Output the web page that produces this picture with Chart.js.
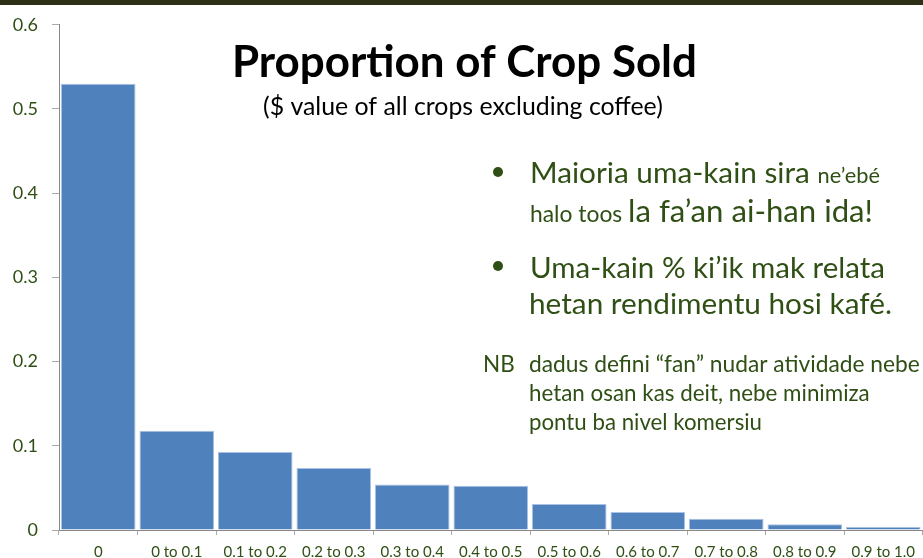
<!DOCTYPE html>
<html>
<head>
<meta charset="utf-8">
<script src="https://cdn.jsdelivr.net/npm/chart.js@4.4.1/dist/chart.umd.min.js"></script>
<style>
  html, body { margin: 0; padding: 0; background: #fff; }
  #wrap { width: 923px; height: 558px; position: relative; }
</style>
</head>
<body>
<div id="wrap"><canvas id="crop-chart" width="923" height="558"></canvas></div>
<script>
// Data
const categories = ["0", "0 to 0.1", "0.1 to 0.2", "0.2 to 0.3", "0.3 to 0.4", "0.4 to 0.5",
                    "0.5 to 0.6", "0.6 to 0.7", "0.7 to 0.8", "0.8 to 0.9", "0.9 to 1.0"];
const proportions = [0.530, 0.118, 0.0925, 0.0735, 0.054, 0.0525, 0.031, 0.0214, 0.0134, 0.0068, 0.0036];
const yTicks = [0, 0.1, 0.2, 0.3, 0.4, 0.5, 0.6];

const green = "#2f4f15";
const fontFam = "Lato, 'Open Sans', sans-serif";

// draws the slide text on top of the chart
const slideText = {
    id: "slideText",
    beforeDraw(chart) {
        const ctx = chart.ctx;
        ctx.save();
        ctx.fillStyle = "#fff";
        ctx.fillRect(0, 0, chart.width, chart.height);
        ctx.fillStyle = "#2d2f17";
        ctx.fillRect(0, 0, chart.width, 5);
        ctx.restore();
    },
    afterDraw(chart) {
        const ctx = chart.ctx;
        ctx.save();
        ctx.textBaseline = "alphabetic";
        ctx.textAlign = "left";

        // draws pieces of text of different sizes, scaled so the line is "width" wide
        function fitRuns(x, y, parts, width, weight) {
            weight = weight || "";
            let total = 0;
            for (let p of parts) {
                ctx.font = weight + " " + p[1] + "px " + fontFam;
                total += ctx.measureText(p[0]).width;
            }
            const k = width / total;
            for (let p of parts) {
                ctx.font = weight + " " + (p[1] * k).toFixed(2) + "px " + fontFam;
                ctx.fillText(p[0], x, y);
                x += ctx.measureText(p[0]).width;
            }
        }

        ctx.fillStyle = "#000";
        fitRuns(232, 77, [["Proportion of Crop Sold", 44]], 465, "bold");
        fitRuns(263, 115, [["($ value of all crops excluding coffee)", 24]], 400);

        ctx.fillStyle = green;
        for (let cy of [172, 266]) {
            ctx.beginPath();
            ctx.arc(498, cy, 5, 0, Math.PI * 2);
            ctx.fill();
        }
        fitRuns(530, 183, [["Maioria uma-kain sira ", 30], ["ne\u2019eb\u00e9", 22]], 350);
        fitRuns(530, 222, [["halo toos ", 22], ["la fa\u2019an ai-han ida!", 30]], 343);
        fitRuns(530, 278, [["Uma-kain % ki\u2019ik mak relata", 30]], 355);
        fitRuns(529, 314, [["hetan rendimentu hosi kaf\u00e9.", 30]], 363);

        ctx.font = "22.5px " + fontFam;
        ctx.fillText("NB", 483, 372);
        fitRuns(529, 372, [["dadus defini \u201cfan\u201d nudar atividade nebe", 22]], 391);
        fitRuns(529, 401, [["hetan osan kas deit, nebe minimiza", 22]], 341);
        fitRuns(529, 430, [["pontu ba nivel komersiu", 22]], 233);
        ctx.restore();
    }
};

new Chart(document.getElementById("crop-chart"), {
    type: "bar",
    data: {
        labels: categories,
        datasets: [{
            label: "Proportion",
            data: proportions,
            backgroundColor: "#4f81bd",
            borderColor: "#a9c2e3",
            borderWidth: { top: 1, left: 1, right: 1, bottom: 0 },
            barPercentage: 0.95,
            categoryPercentage: 1.0
        }]
    },
    options: {
        responsive: false,
        animation: false,
        layout: { padding: { top: 24, right: 0, left: 0, bottom: 0 } },
        plugins: {
            legend: { display: false },
            tooltip: { enabled: false }
        },
        scales: {
            x: {
                grid: { display: true, drawOnChartArea: false, drawTicks: true, tickLength: 5, color: "#aaa", offset: true },
                border: { color: "#888", width: 1 },
                ticks: { color: green, font: { family: fontFam, size: 15 }, padding: 8, maxRotation: 0, autoSkip: false },
                afterFit(scale) { scale.height = 28; }
            },
            y: {
                min: 0,
                max: 0.6,
                afterBuildTicks(scale) { scale.ticks = yTicks.map(v => ({ value: v })); },
                grid: { display: true, drawOnChartArea: false, drawTicks: true, tickLength: 7, color: "#aaa" },
                border: { color: "#888", width: 1 },
                ticks: {
                    color: green,
                    font: { family: fontFam, size: 18 },
                    padding: 14,
                    callback: v => String(Math.round(v * 10) / 10)
                },
                afterFit(scale) { scale.width = 59; }
            }
        }
    },
    plugins: [slideText]
});
</script>
</body>
</html>
